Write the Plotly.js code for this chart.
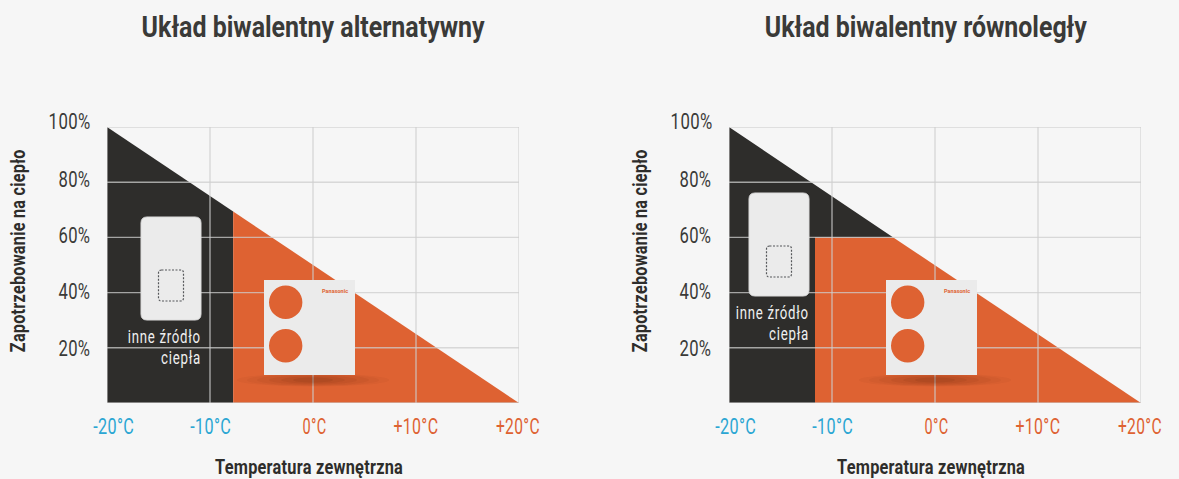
<!DOCTYPE html>
<html><head><meta charset="utf-8">
<script src="https://cdn.plot.ly/plotly-3.0.1.min.js"></script>
<style>html,body{margin:0;padding:0;background:#f6f6f6}#c{width:1179px;height:479px}</style>
</head><body><div id="c"></div>
<script>
// DATA
const panelTitles = ["Układ biwalentny alternatywny", "Układ biwalentny równoległy"];
const xTitle = "Temperatura zewnętrzna";
const yTitle = "Zapotrzebowanie na ciepło";
const xTicks = [-20, -10, 0, 10, 20];
const xTickLabels = ["-20°C", "-10°C", "0°C", "+10°C", "+20°C"];
const yTicks = [20, 40, 60, 80, 100];
const yTickLabels = ["20%", "40%", "60%", "80%", "100%"];
const sourceLabel = ["inne źródło", "ciepła"];
const brand = "Panasonic";
// demand polygons: temperature, share of demand
const altDarkX = [-20, -7.75, -7.75, -20, -20];
const altDarkY = [100, 69.4, 0, 0, 100];
const altOrangeX = [-7.75, 20, -7.75, -7.75];
const altOrangeY = [69.4, 0, 0, 69.4];
const parDarkX = [-20, -4.05, -11.65, -11.65, -20, -20];
const parDarkY = [100, 60, 60, 0, 0, 100];
const parOrangeX = [-11.65, -4.05, 20, -11.65, -11.65];
const parOrangeY = [60, 60, 0, 0, 60];

const DARK = "#2e2d2b", ORANGE = "#de6232", BLUE = "#2ba6d3", CARD = "#ebebeb", TEXT = "#3a3a38";
const GRID = "rgba(205,205,205,0.75)";
const W = 1179, H = 479, PX0 = 107, PX1 = 519, PY0 = 127, PY1 = 403, DX = 622;
const FONT = 'Roboto,"Open Sans",sans-serif';
const px = v => v / W, py = v => 1 - v / H;
const dom = (o) => [px(PX0 + o), px(PX1 + o)];

function fillTrace(x, y, color, xa, ya) {
  return {type: "scatter", mode: "lines", x, y, xaxis: xa, yaxis: ya, fill: "toself", fillcolor: color,
          line: {width: 0, color}, hoverinfo: "skip", showlegend: false};
}
function gridTraces(xa, ya) {
  const t = [];
  xTicks.forEach(v => t.push({type: "scatter", mode: "lines", x: [v, v], y: [0, 100], xaxis: xa, yaxis: ya,
    line: {color: GRID, width: 1.4}, hoverinfo: "skip", showlegend: false, cliponaxis: false}));
  [0].concat(yTicks).forEach(v => t.push({type: "scatter", mode: "lines", x: [-20, 20], y: [v, v], xaxis: xa, yaxis: ya,
    line: {color: GRID, width: 1.4}, hoverinfo: "skip", showlegend: false, cliponaxis: false}));
  return t;
}
function rr(l, t, r, b, c) {
  const X = px, Y = py;
  return `M${X(l + c)},${Y(t)} L${X(r - c)},${Y(t)} Q${X(r)},${Y(t)} ${X(r)},${Y(t + c)} L${X(r)},${Y(b - c)} Q${X(r)},${Y(b)} ${X(r - c)},${Y(b)} L${X(l + c)},${Y(b)} Q${X(l)},${Y(b)} ${X(l)},${Y(b - c)} L${X(l)},${Y(t + c)} Q${X(l)},${Y(t)} ${X(l + c)},${Y(t)} Z`;
}
const paperRef = {xref: "paper", yref: "paper"};
function decor(o, cardLeft, cardTop) {
  const s = [];
  // heat pump shadow
  [[76, 6.5, .035], [66, 6, .04], [56, 5.5, .05], [44, 4.5, .06], [32, 3.5, .07], [20, 2.5, .08]].forEach(([rx, ry, a]) =>
    s.push({...paperRef, type: "circle", x0: px(313 + o - rx), x1: px(313 + o + rx), y0: py(380 + ry), y1: py(380 - ry),
            fillcolor: `rgba(70,25,5,${a})`, line: {width: 0}}));
  // other heat source card
  s.push({...paperRef, type: "path", path: rr(cardLeft, cardTop, cardLeft + 60, cardTop + 103, 6), fillcolor: CARD, line: {color: "#dcdcdc", width: 1}});
  s.push({...paperRef, type: "path", path: rr(cardLeft + 17.5, cardTop + 53, cardLeft + 42.5, cardTop + 84, 3), fillcolor: "rgba(0,0,0,0)", line: {color: "#55575a", width: 1.2, dash: "2px,1.5px"}});
  // heat pump unit
  s.push({...paperRef, type: "rect", x0: px(264 + o), x1: px(355 + o), y0: py(375), y1: py(280), fillcolor: CARD, line: {width: 0}});
  [302.3, 345.7].forEach(c => s.push({...paperRef, type: "circle", x0: px(269 + o), x1: px(302.4 + o), y0: py(c + 16.7), y1: py(c - 16.7), fillcolor: ORANGE, line: {width: 0}}));
  return s;
}
// every annotation records the length its text is fitted to, and its letter spacing
const fitted = [], spacing = [];
function note(text, cx, y, size, color, len, ls, opts) {
  fitted.push(len); spacing.push(ls);
  return Object.assign({...paperRef, x: px(cx), y: py(y), text, showarrow: false, xanchor: "center", yanchor: "middle",
    font: {family: FONT, size, color}}, opts || {});
}
function texts(o, i, cardRight, srcY) {
  const a = [];
  a.push(note("<b>" + panelTitles[i] + "</b>", i ? 926 : 313.5, 27, 30, TEXT, i ? 322 : 343, 0));
  a.push(note("<b>" + xTitle + "</b>", 309 + o, 467, 19.5, DARK, 188, 0.3));
  a.push(note("<b>" + yTitle + "</b>", 18 + o, 251, 20, DARK, 203, 0.3, {textangle: -90}));
  const xShift = [6, 0, 1, 0, -1], xLen = [41, 41, 24, 45, 44];
  xTicks.forEach((v, k) => a.push(note(xTickLabels[k], PX0 + o + (v + 20) / 40 * (PX1 - PX0) + xShift[k], 426, 22, v < 0 ? BLUE : ORANGE, xLen[k], 0.5)));
  const yPos = [348, 291, 235, 179, 122], yLen = [32, 32, 32, 32, 42];
  yTicks.forEach((v, k) => a.push(note(yTickLabels[k], 90 + o - yLen[k] / 2, yPos[k], 22, TEXT, yLen[k], 0.5)));
  a.push(note(sourceLabel[0], cardRight - 36.5, srcY, 18, "#f0f0f0", 73, 1));
  a.push(note(sourceLabel[1], cardRight - 20, srcY + 21, 18, "#f0f0f0", 40, 1));
  a.push(note("<b>" + brand + "</b>", 335 + o, 290, 6, ORANGE, 26, 0));
  return a;
}
const axisBase = {showgrid: false, zeroline: false, showline: false, showticklabels: false, ticks: "", fixedrange: true};
const data = [
  fillTrace(altDarkX, altDarkY, DARK, "x", "y"),
  fillTrace(altOrangeX, altOrangeY, ORANGE, "x", "y"),
  ...gridTraces("x", "y"),
  fillTrace(parDarkX, parDarkY, DARK, "x2", "y2"),
  fillTrace(parOrangeX, parOrangeY, ORANGE, "x2", "y2"),
  ...gridTraces("x2", "y2"),
];
const layout = {
  width: W, height: H, margin: {l: 0, r: 0, t: 0, b: 0}, paper_bgcolor: "#f6f6f6", plot_bgcolor: "#f6f6f6",
  showlegend: false, font: {family: FONT},
  xaxis: {...axisBase, domain: dom(0), range: [-20, 20], anchor: "y"},
  yaxis: {...axisBase, domain: [py(PY1), py(PY0)], range: [0, 100], anchor: "x"},
  xaxis2: {...axisBase, domain: dom(DX), range: [-20, 20], anchor: "y2"},
  yaxis2: {...axisBase, domain: [py(PY1), py(PY0)], range: [0, 100], anchor: "x2"},
  shapes: [...decor(0, 141, 217), ...decor(DX, 749, 193)],
  annotations: [...texts(0, 0, 201, 336), ...texts(DX, 1, 809, 312)],
};
Plotly.newPlot("c", data, layout, {displayModeBar: false, responsive: false}).then(gd => {
  // the reference uses a condensed, spaced face: fit each real text to its measured length
  gd.querySelectorAll(".annotation-text").forEach((t, i) => {
    t.style.letterSpacing = spacing[i] + "px";
    t.setAttribute("textLength", fitted[i]);
    t.setAttribute("lengthAdjust", "spacingAndGlyphs");
  });
});
</script></body></html>
